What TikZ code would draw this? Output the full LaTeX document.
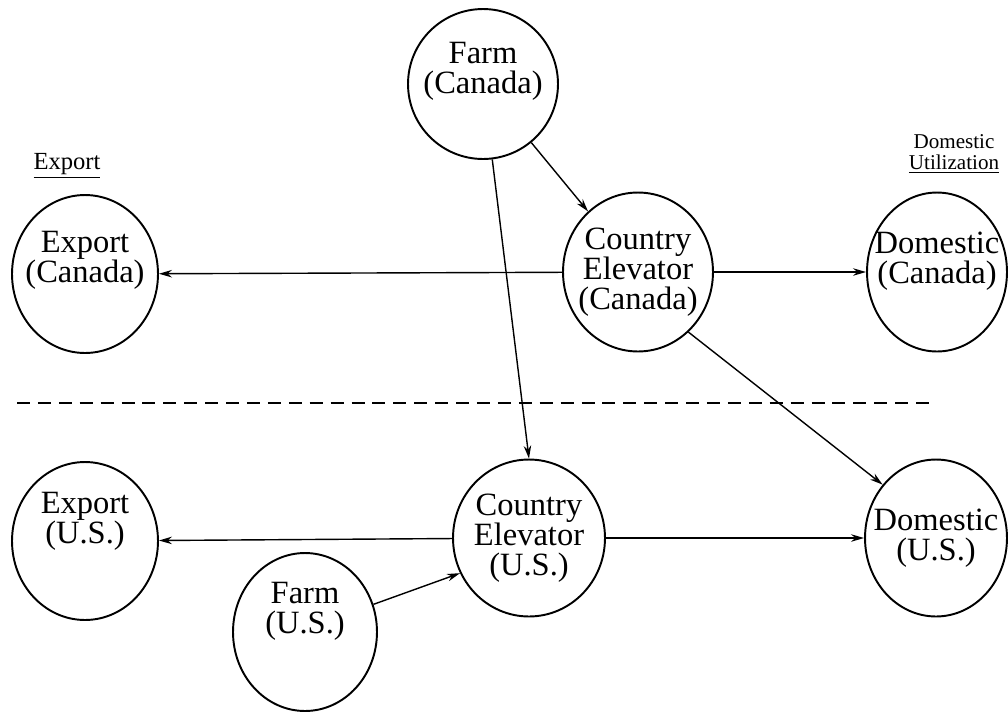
\documentclass[tikz,border=0pt]{standalone}
\usepackage{fontspec}
\setmainfont{Liberation Serif}
\usepackage{xcolor}
\usetikzlibrary{shapes.geometric,arrows.meta}

\begin{document}
\begin{tikzpicture}[x=0.02cm,y=-0.02cm]
  \tikzstyle{every node}=[ellipse, draw, line width=1.1pt, inner sep=0pt]
  \tikzstyle{every label}=[draw=none, align=center, font=\fontsize{18.5}{17}\selectfont]
  \tikzstyle{flow}=[line width=0.8pt, -{Stealth[length=2.6mm,width=1.5mm]}]
  \tikzstyle{heading}=[draw=none, rectangle, align=center]
  \useasboundingbox (0,0) rectangle (1008,711);

  % Canada
  \node (FarmCA)[minimum width=3cm, minimum height=3cm, label={[yshift=7pt]center:Farm\\(Canada)}] at (483,84) {};
  \node (ExportCA)[minimum width=2.92cm, minimum height=3.16cm, label={[yshift=8pt]center:Export\\(Canada)}] at (85,274) {};
  \node (ElevCA)[minimum width=3cm, minimum height=3.18cm, label={center:Country\\Elevator\\(Canada)}] at (638,272) {};
  \node (DomCA)[minimum width=2.8cm, minimum height=3.18cm, label={[yshift=6pt]center:Domestic\\(Canada)}] at (937,272) {};

  % U.S.
  \node (ExportUS)[minimum width=2.92cm, minimum height=3.16cm, label={[yshift=11pt]center:Export\\(U.S.)}] at (85,541) {};
  \node (ElevUS)[minimum width=3.04cm, minimum height=3.14cm, label={center:Country\\Elevator\\(U.S.)}] at (529,538) {};
  \node (DomUS)[minimum width=2.84cm, minimum height=3.14cm, label={center:Domestic\\(U.S.)}] at (936,538) {};
  \node (FarmUS)[minimum width=2.88cm, minimum height=3.16cm, label={[yshift=12pt]center:Farm\\(U.S.)}] at (305,632) {};

  \node[heading, font=\fontsize{14}{14}\selectfont] (ExportHead) at (67,166) {\underline{Export}};
  \node[heading, font=\fontsize{12}{12}\selectfont] (DomHead) at (954,154) {Domestic\\\underline{Utilization}};

  \coordinate (BorderL) at (17,403);
  \coordinate (BorderR) at (935,403);
  \draw[line width=1.4pt, dash pattern=on 7.4pt off 4.5pt] (BorderL) -- (BorderR);

  \draw[flow] (FarmCA) -- (ElevCA);
  \draw[flow] (FarmCA) -- (ElevUS.north);
  \draw[flow] (ElevCA) -- (ExportCA);
  \draw[flow] (ElevCA) -- (DomCA);
  \draw[flow] (ElevCA.-50) -- (DomUS.135);
  \draw[flow] (ElevUS) -- (ExportUS);
  \draw[flow] (ElevUS) -- (DomUS);
  \draw[flow] (FarmUS.22) -- (ElevUS.207);
\end{tikzpicture}
\end{document}
